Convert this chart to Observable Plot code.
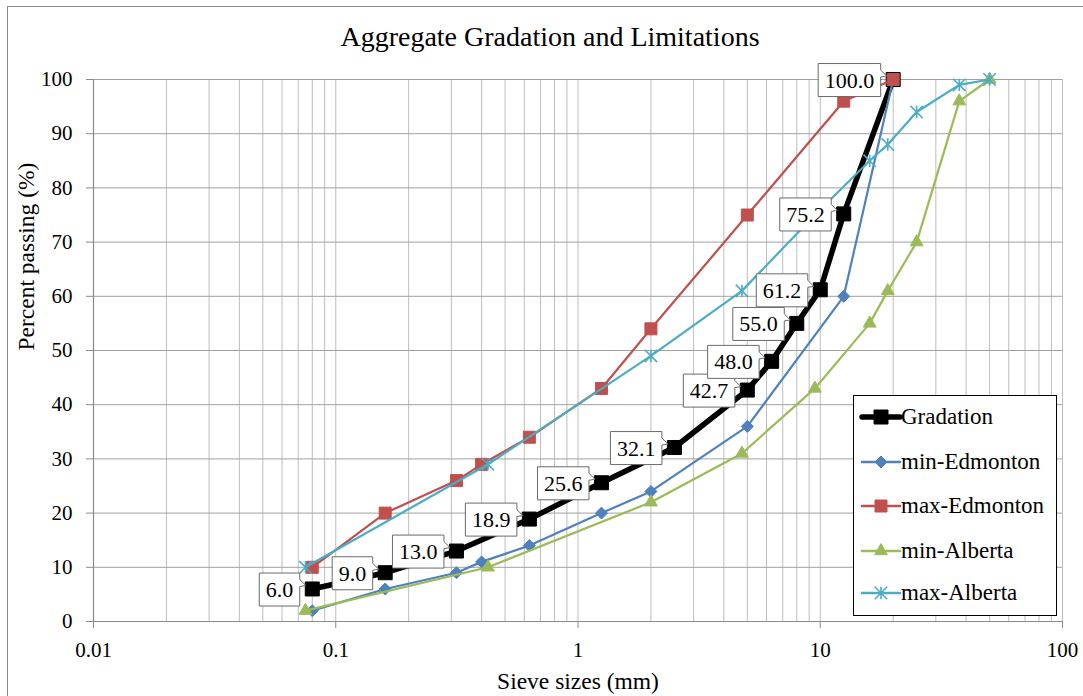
<!DOCTYPE html>
<html>
<head>
<meta charset="utf-8">
<script src="https://cdn.jsdelivr.net/npm/d3@7"></script>
<script src="https://cdn.jsdelivr.net/npm/@observablehq/plot@0.6"></script>
<style>
  html, body { margin: 0; padding: 0; background: #fff; overflow: hidden; }
  #wrap { position: relative; width: 1083px; height: 696px; overflow: hidden; background: #fff;
          font-family: "Liberation Serif", "Times New Roman", serif; color: #000; }
  #wrap > svg { position: absolute; left: 0; top: 0; z-index: 0; }
  #frame { position: absolute; left: 7px; top: 6px; width: 1120px; height: 760px; border: 1.5px solid #8a8a8a; pointer-events: none; z-index: 2; }
  #title { position: absolute; left: 0; top: 21px; width: 1100px; text-align: center; font-size: 28px; line-height: 32px; white-space: nowrap; z-index: 2; }
  #legend { position: absolute; left: 853px; top: 395px; width: 204px; height: 221px; box-sizing: border-box; border: 1.5px solid #000; background: #fff; z-index: 2; }
  .lg-row { position: absolute; left: 0; height: 30px; width: 200px; }
  .lg-row svg { position: absolute; left: 7px; top: 0; overflow: visible; }
  .lg-row span { position: absolute; left: 47px; top: 0; font-size: 23px; line-height: 30px; white-space: nowrap; }
</style>
</head>
<body>
<div id="wrap">
  <div id="title"></div>
  <div id="legend"></div>
  <div id="frame"></div>
</div>
<script>
// ---------- texts ----------
const chartTitle = "Aggregate Gradation and Limitations";
const xAxisTitle = "Sieve sizes (mm)";
const yAxisTitle = "Percent passing (%)";

// ---------- ticks ----------
const xTickValues = [0.01, 0.1, 1, 10, 100];
const xTickLabels = ["0.01", "0.1", "1", "10", "100"];
const yTickValues = [0, 10, 20, 30, 40, 50, 60, 70, 80, 90, 100];

// ---------- series ----------
const seriesNames = ["Gradation", "min-Edmonton", "max-Edmonton", "min-Alberta", "max-Alberta"];

const gradationSieves = [0.08, 0.16, 0.315, 0.63, 1.25, 2.5, 5, 6.3, 8, 10, 12.5, 20];
const gradationPassing = [6.0, 9.0, 13.0, 18.9, 25.6, 32.1, 42.7, 48.0, 55.0, 61.2, 75.2, 100.0];

const edmontonSieves = [0.08, 0.16, 0.315, 0.4, 0.63, 1.25, 2, 5, 12.5, 20];
const minEdmonton = [2, 6, 9, 11, 14, 20, 24, 36, 60, 100];
const maxEdmonton = [10, 20, 26, 29, 34, 43, 54, 75, 96, 100];

const albertaSieves = [0.075, 0.425, 2, 4.75, 9.5, 16, 19, 25, 37.5, 50];
const minAlberta = [2, 10, 22, 31, 43, 55, 61, 70, 96, 100];
const maxAlberta = [10, 29, 49, 61, 75, 85, 88, 94, 99, 100];

// ---------- styles ----------
const seriesColors = ["#000000", "#4F81BD", "#C0504D", "#9BBB59", "#4BACC6"];
const serifStack = "'Liberation Serif', 'Times New Roman', serif";

// custom marker shapes (half-extent = r)
const rad = s => Math.sqrt(s / Math.PI);
const symSquare = {draw(ctx, size) { const r = rad(size); ctx.moveTo(-r, -r); ctx.lineTo(r, -r); ctx.lineTo(r, r); ctx.lineTo(-r, r); ctx.closePath(); }};
const symDiamond = {draw(ctx, size) { const r = rad(size); ctx.moveTo(0, -r); ctx.lineTo(r, 0); ctx.lineTo(0, r); ctx.lineTo(-r, 0); ctx.closePath(); }};
const symTriangle = {draw(ctx, size) { const r = rad(size); ctx.moveTo(0, -1.155 * r); ctx.lineTo(r, 0.577 * r); ctx.lineTo(-r, 0.577 * r); ctx.closePath(); }};
const symStar = {draw(ctx, size) { const r = rad(size); ctx.moveTo(-r, -r); ctx.lineTo(r, r); ctx.moveTo(-r, r); ctx.lineTo(r, -r); ctx.moveTo(0, -r); ctx.lineTo(0, r); }};

const seriesStyle = [
  {sym: symSquare, r: 7, lw: 5.5, filled: true},
  {sym: symDiamond, r: 6, lw: 2.2, filled: true},
  {sym: symSquare, r: 6, lw: 2.2, filled: true},
  {sym: symTriangle, r: 6.4, lw: 2.2, filled: true},
  {sym: symStar, r: 6.2, lw: 2.2, filled: false}
];

// ---------- tables ----------
const toRows = (xs, ys) => xs.map((x, i) => ({x, y: ys[i]}));
const seriesRows = [
  toRows(gradationSieves, gradationPassing),
  toRows(edmontonSieves, minEdmonton),
  toRows(edmontonSieves, maxEdmonton),
  toRows(albertaSieves, minAlberta),
  toRows(albertaSieves, maxAlberta)
];

// log gridlines (1..9 per decade)
const gridX = [];
for (const dec of [0.01, 0.1, 1, 10]) for (let k = 1; k <= 9; k++) gridX.push(+(k * dec).toPrecision(3));
gridX.push(100);

const seriesMarks = [];
seriesRows.forEach((rows, i) => {
  const st = seriesStyle[i], c = seriesColors[i];
  seriesMarks.push(Plot.line(rows, {x: "x", y: "y", stroke: c, strokeWidth: st.lw, strokeLinejoin: "round", strokeLinecap: "round"}));
  seriesMarks.push(Plot.dot(rows, {x: "x", y: "y", symbol: st.sym, r: st.r,
    fill: st.filled ? c : "none", stroke: c, strokeWidth: st.filled ? 1 : 1.6}));
});

const chart = Plot.plot({
  width: 1083,
  height: 696,
  marginLeft: 93,
  marginRight: 21,
  marginTop: 79,
  marginBottom: 75,
  style: {background: "transparent", overflow: "visible", color: "#000"},
  x: {type: "log", domain: [0.01, 100]},
  y: {domain: [0, 100]},
  marks: [
    Plot.ruleX(gridX, {stroke: "#bdbdbd", strokeWidth: 1}),
    Plot.ruleY(yTickValues, {stroke: "#a0a0a0", strokeWidth: 1}),
    Plot.ruleX([0.01], {stroke: "#8a8a8a", strokeWidth: 1.2}),
    Plot.ruleY([0], {stroke: "#8a8a8a", strokeWidth: 1.2}),
    Plot.axisX({ticks: xTickValues, tickFormat: d => xTickLabels[xTickValues.indexOf(d)], tickSize: 7, tickPadding: 14, fontSize: 21, label: null, stroke: "#8a8a8a"}),
    Plot.axisY({ticks: yTickValues, tickFormat: d => String(d), tickSize: 7, tickPadding: 14, fontSize: 21, label: null, stroke: "#8a8a8a"}),
    Plot.text([xAxisTitle], {frameAnchor: "bottom", text: d => d, dy: 59.5, lineAnchor: "middle", fontSize: 23.5, fill: "#000"}),
    Plot.text([yAxisTitle], {frameAnchor: "left", text: d => d, dx: -67.5, rotate: -90, lineAnchor: "middle", fontSize: 23.5, fill: "#000"}),
    ...seriesMarks,
    Plot.text(seriesRows[0], {x: "x", y: "y", text: d => d.y.toFixed(1), textAnchor: "end", dx: -19, dy: 1, lineAnchor: "middle", fontSize: 22, fill: "#000", className: "grad-labels"})
  ]
});

document.getElementById("wrap").appendChild(chart);
document.getElementById("title").textContent = chartTitle;

// serif font on every svg text
chart.setAttribute("font-family", "Liberation Serif, Times New Roman, serif");
chart.style.setProperty("font-family", serifStack, "important");
chart.querySelectorAll("g, text").forEach(el => {
  el.removeAttribute("font-family");
  el.style.setProperty("font-family", serifStack, "important");
});

// ---------- callout boxes behind gradation labels ----------
(function () {
  const ns = "http://www.w3.org/2000/svg";
  const labelG = chart.querySelector("g.grad-labels");
  if (!labelG) return;
  const sx = chart.scale("x"), sy = chart.scale("y");
  const svgRect = chart.getBoundingClientRect();
  const boxG = document.createElementNS(ns, "g");
  labelG.parentNode.insertBefore(boxG, labelG);
  labelG.querySelectorAll("text").forEach((t, i) => {
    const b = t.getBoundingClientRect();
    const x0 = b.left - svgRect.left - 6.5, x1 = b.right - svgRect.left + 6.5;
    const y0 = b.top - svgRect.top - 4, y1 = b.bottom - svgRect.top + 4;
    const cy = (y0 + y1) / 2;
    const px = sx.apply(seriesRows[0][i].x), py = sy.apply(seriesRows[0][i].y);
    const p = document.createElementNS(ns, "path");
    p.setAttribute("d", `M${x0},${y0}H${x1}V${cy - 10}L${px - 6},${py - 3}L${x1},${cy - 3}V${y1}H${x0}Z`);
    p.setAttribute("fill", "#fff");
    p.setAttribute("stroke", "#6a6a6a");
    p.setAttribute("stroke-width", "1");
    boxG.appendChild(p);
  });
})();

// ---------- legend ----------
(function () {
  const legend = document.getElementById("legend");
  const centers = [22, 67, 111, 156, 198];
  seriesNames.forEach((name, i) => {
    const st = seriesStyle[i], c = seriesColors[i];
    const row = document.createElement("div");
    row.className = "lg-row";
    row.style.top = (centers[i] - 15 - 1.5) + "px";
    const path = d3.symbol(st.sym, Math.PI * st.r * st.r)();
    row.innerHTML =
      `<svg width="40" height="30"><line x1="1" y1="15" x2="39" y2="15" stroke="${c}" stroke-width="${i === 0 ? 5.5 : 2.5}" stroke-linecap="round"/>` +
      `<path transform="translate(20,15)" d="${path}" fill="${st.filled ? c : "none"}" stroke="${c}" stroke-width="${st.filled ? 1 : 1.6}"/></svg>` +
      `<span>${name}</span>`;
    legend.appendChild(row);
  });
})();
</script>
</body>
</html>
